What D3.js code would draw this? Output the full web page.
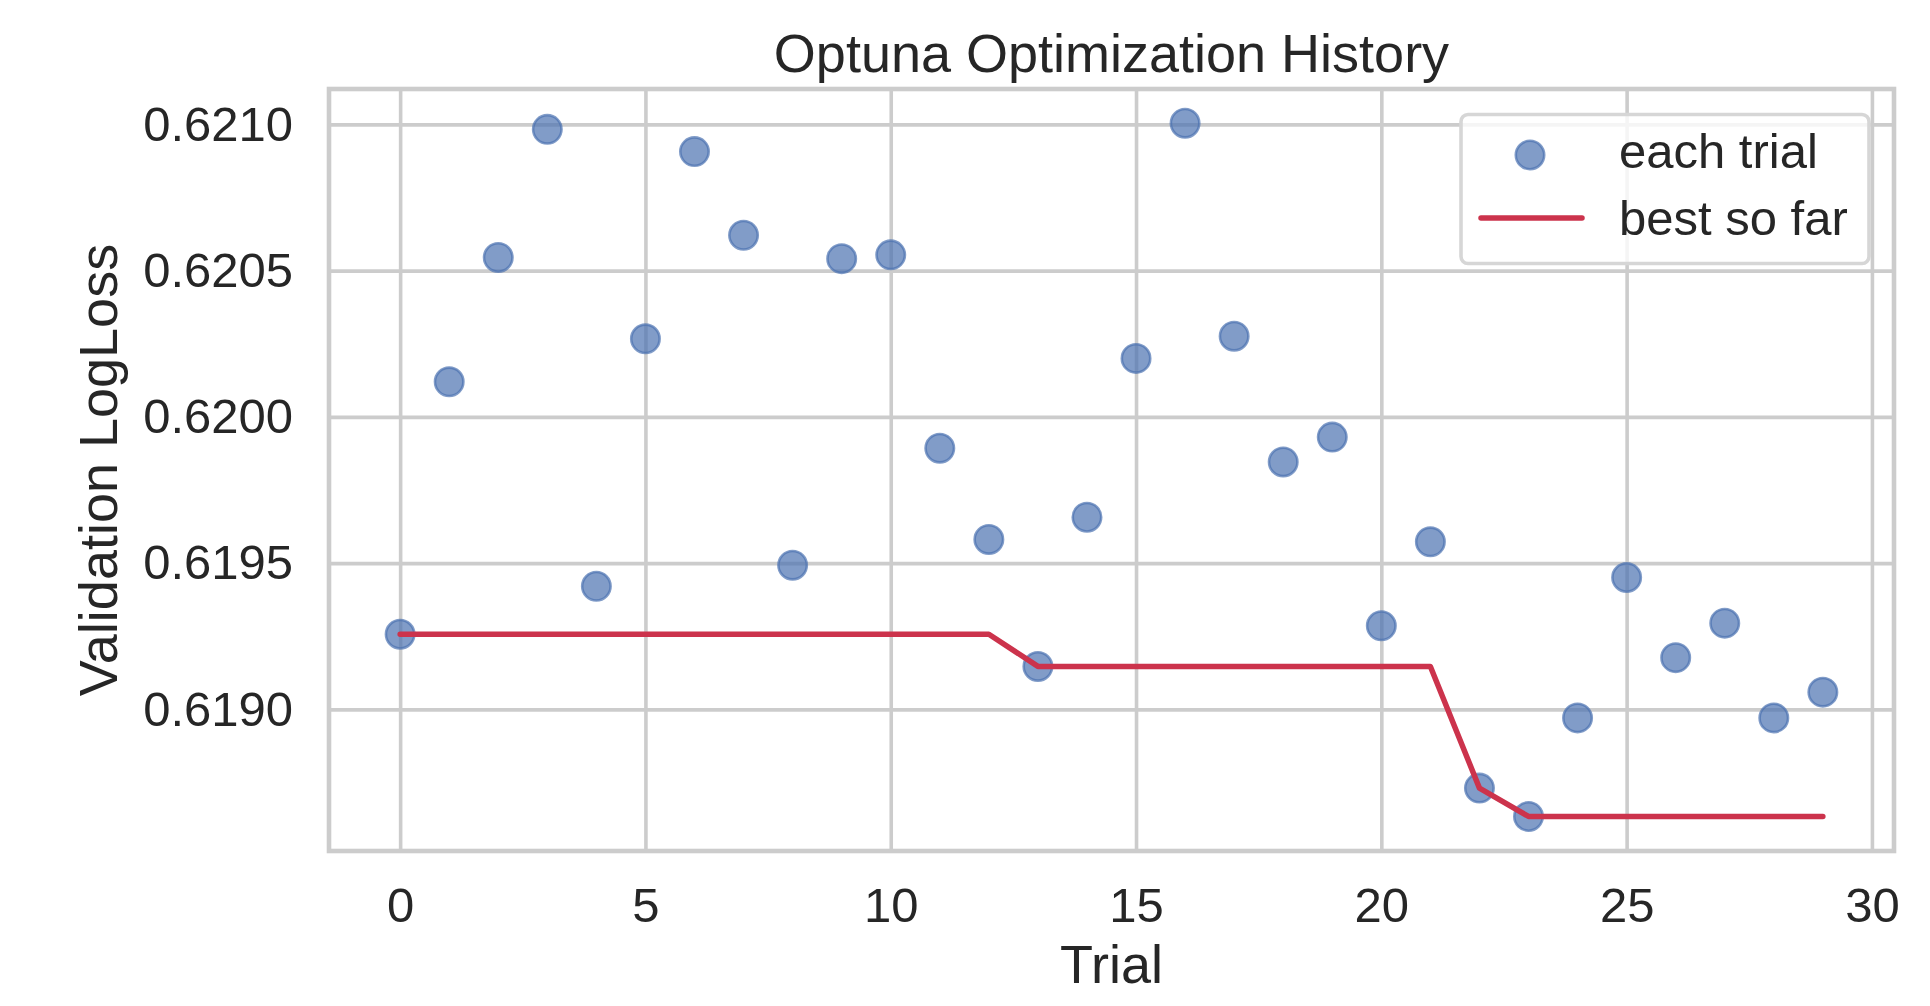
<!DOCTYPE html>
<html>
<head>
<meta charset="utf-8">
<script src="https://cdn.jsdelivr.net/npm/d3@7"></script>
<style>
  html, body { margin: 0; padding: 0; background: #ffffff; }
  svg { display: block; font-family: "Liberation Sans", Arial, sans-serif; }
</style>
</head>
<body>
<svg id="chart" width="1930" height="1006"></svg>
<script>
// ---- data ----
const trials = [0,1,2,3,4,5,6,7,8,9,10,11,12,13,14,15,16,17,18,19,20,21,22,23,24,25,26,27,28,29];
const values = [0.619257,0.620120,0.620545,0.620983,0.619421,0.620267,0.620907,0.620621,0.619493,0.620541,
                0.620554,0.619893,0.619581,0.619147,0.619657,0.620200,0.621004,0.620276,0.619846,0.619931,
                0.619286,0.619573,0.618731,0.618634,0.618971,0.619451,0.619177,0.619295,0.618971,0.619059];
const bestSoFar = [0.619257,0.619257,0.619257,0.619257,0.619257,0.619257,0.619257,0.619257,0.619257,0.619257,
                   0.619257,0.619257,0.619257,0.619147,0.619147,0.619147,0.619147,0.619147,0.619147,0.619147,
                   0.619147,0.619147,0.618731,0.618634,0.618634,0.618634,0.618634,0.618634,0.618634,0.618634];
const xTicks = [0,5,10,15,20,25,30];
const yTicks = [0.6190,0.6195,0.6200,0.6205,0.6210];
const titleText = "Optuna Optimization History";
const xLabel = "Trial";
const yLabel = "Validation LogLoss";
const legendLabels = ["each trial", "best so far"];

// ---- layout ----
const L = 329, R = 1894, T = 89, B = 851;
const textColor = "#262626", gridColor = "#cccccc";
const dotColor = "#4c72b0", lineColor = "#cc334c";

const svg = d3.select("#chart");
const x = d3.scaleLinear().domain([-1.45, 30.45]).range([L, R]);
const y = d3.scaleLinear().domain([0.618516, 0.621121]).range([B, T]);

// grid
const gx = svg.append("g").attr("transform", `translate(0,${B})`)
  .call(d3.axisBottom(x).tickValues(xTicks).tickSize(-(B - T)).tickFormat(d3.format("d")).tickPadding(36));
gx.select(".domain").remove();
gx.selectAll(".tick line").attr("stroke", gridColor).attr("stroke-width", 3.6);
gx.selectAll(".tick text").attr("fill", textColor).attr("font-size", 49)
  .attr("font-family", "Liberation Sans, Arial, sans-serif");

const gy = svg.append("g").attr("transform", `translate(${L},0)`)
  .call(d3.axisLeft(y).tickValues(yTicks).tickSize(-(R - L)).tickFormat(d3.format(".4f")).tickPadding(36));
gy.select(".domain").remove();
gy.selectAll(".tick line").attr("stroke", gridColor).attr("stroke-width", 3.6);
gy.selectAll(".tick text").attr("fill", textColor).attr("font-size", 49)
  .attr("font-family", "Liberation Sans, Arial, sans-serif");

// spines
svg.append("rect").attr("x", L).attr("y", T).attr("width", R - L).attr("height", B - T)
  .attr("fill", "none").attr("stroke", gridColor).attr("stroke-width", 4.6);

// scatter
svg.append("g").selectAll("circle").data(trials).join("circle")
  .attr("cx", d => x(d)).attr("cy", (d, i) => y(values[i]))
  .attr("r", 14.2)
  .attr("fill", dotColor).attr("fill-opacity", 0.7)
  .attr("stroke", dotColor).attr("stroke-opacity", 0.7).attr("stroke-width", 2.6);

// best so far line
const line = d3.line().x(d => x(d)).y((d, i) => y(bestSoFar[i]));
svg.append("path").datum(trials).attr("d", line)
  .attr("fill", "none").attr("stroke", lineColor).attr("stroke-width", 5.5)
  .attr("stroke-linejoin", "round").attr("stroke-linecap", "round");

// legend
const lg = svg.append("g");
lg.append("rect").attr("x", 1461).attr("y", 114.5).attr("width", 408).attr("height", 149).attr("rx", 7)
  .attr("fill", "#ffffff").attr("fill-opacity", 0.8).attr("stroke", "#d6d6d6").attr("stroke-width", 3.6);
lg.append("circle").attr("cx", 1530).attr("cy", 155).attr("r", 14.2)
  .attr("fill", dotColor).attr("fill-opacity", 0.7)
  .attr("stroke", dotColor).attr("stroke-opacity", 0.7).attr("stroke-width", 2.6);
lg.append("line").attr("x1", 1481).attr("x2", 1582).attr("y1", 218).attr("y2", 218)
  .attr("stroke", lineColor).attr("stroke-width", 5.5).attr("stroke-linecap", "round");
lg.selectAll("text").data(legendLabels).join("text")
  .attr("x", 1619).attr("y", (d, i) => [168, 235][i])
  .attr("fill", textColor).attr("font-size", 49).text(d => d);

// title & labels
svg.append("text").attr("x", (L + R) / 2).attr("y", 72).attr("text-anchor", "middle")
  .attr("fill", textColor).attr("font-size", 54).text(titleText);
svg.append("text").attr("x", (L + R) / 2).attr("y", 983).attr("text-anchor", "middle")
  .attr("fill", textColor).attr("font-size", 54).text(xLabel);
svg.append("text").attr("transform", `translate(117,${(T + B) / 2}) rotate(-90)`).attr("text-anchor", "middle")
  .attr("fill", textColor).attr("font-size", 54).text(yLabel);
</script>
</body>
</html>
